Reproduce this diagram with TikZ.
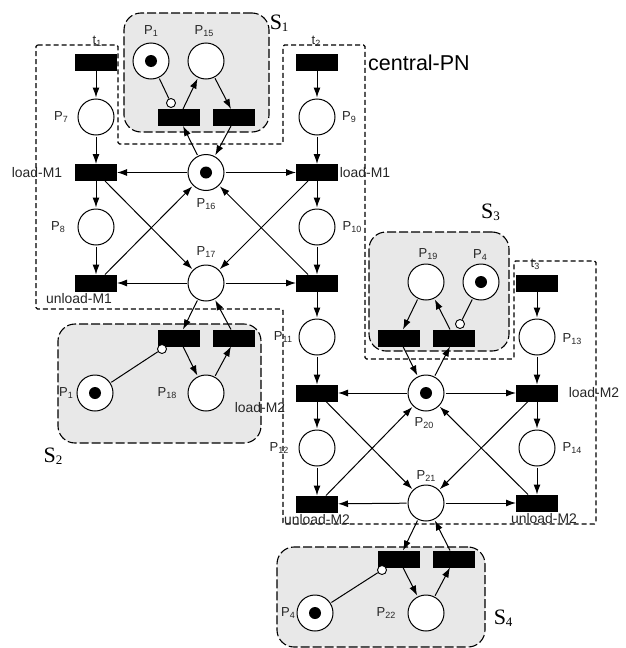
\documentclass[tikz,border=0pt]{standalone}
\usepackage{fontspec}
\setmainfont{Liberation Sans}
\newfontfamily\serifS{Liberation Serif}
\usetikzlibrary{arrows.meta,positioning}

\newcommand{\plc}[1]{{\fontsize{13}{13}\selectfont P\raisebox{-2pt}{\fontsize{9}{9}\selectfont #1}}}
\newcommand{\trn}[1]{{\fontsize{13}{13}\selectfont t\raisebox{-2pt}{\fontsize{9}{9}\selectfont #1}}}
\newcommand{\sbs}[1]{{\serifS\fontsize{22}{22}\selectfont S\raisebox{-2pt}{\fontsize{13}{13}\selectfont #1}}}

\begin{document}
\begin{tikzpicture}[
  x=1pt, y=-1pt, on grid,
  place/.style={draw, circle, fill=white, line width=1pt, minimum size=36pt, inner sep=0pt, outer sep=1.5pt},
  token/.style={path picture={\fill[black] (path picture bounding box.center) circle (6pt);}},
  trans/.style={fill=black, minimum width=42pt, minimum height=17pt, inner sep=0pt, outer sep=0pt},
  inhib/.style={draw, circle, fill=white, line width=0.9pt, minimum size=9pt, inner sep=0pt},
  subnet/.style={draw, fill=black!9, rounded corners=17pt, line width=1.1pt, dash pattern=on 9pt off 3pt, inner sep=0pt},
  central/.style={line width=1.1pt, dash pattern=on 5pt off 3pt, rounded corners=1.5pt},
  arc/.style={-{Latex[length=10pt,width=7pt]}, line width=1pt},
  lab/.style={font=\fontsize{13.9}{14}\selectfont, inner sep=0pt, text=black!85},
  plab/.style={inner sep=0pt, text=black!85}]
\useasboundingbox (0,0) rectangle (626,648);
% shaded subnets
\node[subnet, minimum width=145pt, minimum height=119pt] (s1) at (196.5,72.5) {};
\node[subnet, minimum width=203pt, minimum height=119pt] (s2) at (159.5,383.5) {};
\node[subnet, minimum width=140pt, minimum height=119pt] (s3) at (439,291.5) {};
\node[subnet, minimum width=208pt, minimum height=100pt] (s4) at (381,597) {};
\draw[central] (36,45) -- (118,45) -- (118,144) -- (283,144) -- (283,45) -- (365,45) -- (365,359)
  -- (514,359) -- (514,261) -- (596,261) -- (596,524) -- (283,524) -- (283,309) -- (36,309) -- cycle;
% M1 part
\node[place, token] (p16) at (206,172.5) {};
\node[place, below=110.5pt of p16] (p17) {};
\node[trans, left=110pt of p16] (tl1) {};
\node[trans, right=111pt of p16] (tl2) {};
\node[trans, left=110pt of p17] (tu1) {};
\node[trans, right=111pt of p17] (tu2) {};
\node[place, above=55.5pt of tl1] (p7) {};
\node[trans, above=54.5pt of p7] (t1) {};
\node[place, below=54.5pt of tl1] (p8) {};
\node[place, above=55.5pt of tl2] (p9) {};
\node[trans, above=54.5pt of p9] (t2) {};
\node[place, below=54.5pt of tl2] (p10) {};
% S1
\node[trans, above left=55pt and 27pt of p16] (ts1a) {};
\node[trans, above right=55pt and 28pt of p16] (ts1b) {};
\node[place, token, above=111.5pt of p16, xshift=-55pt] (p1a) {};
\node[place, above=111.5pt of p16] (p15) {};
\node[inhib, above left=14.5pt and 8pt of ts1a] (i1) {};
% S2
\node[trans, below left=55pt and 27pt of p17] (ts2a) {};
\node[trans, below right=55pt and 28pt of p17] (ts2b) {};
\node[place, below=110pt of p17] (p18) {};
\node[place, token, left=111pt of p18] (p1b) {};
\node[inhib, below left=11pt and 17pt of ts2a] (i2) {};
% M2 part
\node[place, below=54pt of tu2] (p11) {};
\node[trans, below=56pt of p11] (tl3) {};
\node[place, below=55pt of tl3] (p12) {};
\node[trans, below=56pt of p12] (tu3) {};
\node[place, token, right=109pt of tl3] (p20) {};
\node[place, below=110pt of p20] (p21) {};
\node[trans, right=111pt of p20] (tl4) {};
\node[trans, right=111pt of p21] (tu4) {};
\node[place, above=56pt of tl4] (p13) {};
\node[trans, above=54pt of p13] (t3) {};
\node[place, below=55pt of tl4] (p14) {};
% S3
\node[trans, above left=55pt and 27pt of p20] (ts3a) {};
\node[trans, above right=55pt and 28pt of p20] (ts3b) {};
\node[place, above=111pt of p20] (p19) {};
\node[place, token, above=111pt of p20, xshift=55pt] (p4a) {};
\node[inhib, above right=14pt and 6pt of ts3b] (i3) {};
% S4
\node[trans, below left=56pt and 27pt of p21] (ts4a) {};
\node[trans, below right=56pt and 28pt of p21] (ts4b) {};
\node[place, below=110pt of p21] (p22) {};
\node[place, token, left=111pt of p22] (p4b) {};
\node[inhib, below left=11pt and 17pt of ts4a] (i4) {};
% columns
\draw[arc] (t1) -- (p7);
\draw[arc] (p7) -- (tl1);
\draw[arc] (tl1) -- (p8);
\draw[arc] (p8) -- (tu1);
\draw[arc] (t2) -- (p9);
\draw[arc] (p9) -- (tl2);
\draw[arc] (tl2) -- (p10);
\draw[arc] (p10) -- (tu2);
\draw[arc] (tu2) -- (p11);
\draw[arc] (p11) -- (tl3);
\draw[arc] (tl3) -- (p12);
\draw[arc] (p12) -- (tu3);
\draw[arc] (t3) -- (p13);
\draw[arc] (p13) -- (tl4);
\draw[arc] (tl4) -- (p14);
\draw[arc] (p14) -- (tu4);
% shared places
\draw[arc] (p16) -- (tl1);
\draw[arc] (p16) -- (tl2);
\draw[arc] (p17) -- (tu1);
\draw[arc] (p17) -- (tu2);
\draw[arc] ([xshift=9pt]tl1.south) -- (p17);
\draw[arc] ([xshift=-9pt]tl2.south) -- (p17);
\draw[arc] ([xshift=9pt]tu1.north) -- (p16);
\draw[arc] ([xshift=-9pt]tu2.north) -- (p16);
\draw[arc] (p20) -- (tl3);
\draw[arc] (p20) -- (tl4);
\draw[arc] (p21) -- (tu3);
\draw[arc] (p21) -- (tu4);
\draw[arc] ([xshift=9pt]tl3.south) -- (p21);
\draw[arc] ([xshift=-9pt]tl4.south) -- (p21);
\draw[arc] ([xshift=9pt]tu3.north) -- (p20);
\draw[arc] ([xshift=-9pt]tu4.north) -- (p20);
% subnet arcs
\draw[arc] (p16) -- ([xshift=4pt]ts1a.south);
\draw[arc] ([xshift=4pt]ts1a.north) -- (p15);
\draw[arc] (p15) -- ([xshift=-3pt]ts1b.north);
\draw[arc] ([xshift=-3pt]ts1b.south) -- (p16);
\draw[line width=1pt] (p1a) -- (i1);
\draw[arc] (p17) -- ([xshift=4pt]ts2a.north);
\draw[arc] ([xshift=4pt]ts2a.south) -- (p18);
\draw[arc] (p18) -- ([xshift=-3pt]ts2b.south);
\draw[arc] ([xshift=-3pt]ts2b.north) -- (p17);
\draw[line width=1pt] (p1b) -- (i2);
\draw[arc] (p19) -- ([xshift=4pt]ts3a.north);
\draw[arc] ([xshift=4pt]ts3a.south) -- (p20);
\draw[arc] (p20) -- ([xshift=-4pt]ts3b.south);
\draw[arc] ([xshift=-4pt]ts3b.north) -- (p19);
\draw[line width=1pt] (p4a) -- (i3);
\draw[arc] (p21) -- ([xshift=4pt]ts4a.north);
\draw[arc] ([xshift=4pt]ts4a.south) -- (p22);
\draw[arc] (p22) -- ([xshift=-4pt]ts4b.south);
\draw[arc] ([xshift=-4pt]ts4b.north) -- (p21);
\draw[line width=1pt] (p4b) -- (i4);
% labels
\node[plab, above=21pt of t1, xshift=1pt] (lt1) {\trn{1}};
\node[plab, above=21pt of t2, xshift=-1pt] (lt2) {\trn{2}};
\node[plab, above=19pt of t3, xshift=-2pt] (lt3) {\trn{3}};
\node[plab, left=35pt of p7] (l7) {\plc{7}};
\node[plab, left=38pt of p8] (l8) {\plc{8}};
\node[plab, right=32pt of p9] (l9) {\plc{9}};
\node[plab, right=35pt of p10] (l10) {\plc{10}};
\node[plab, below=31.5pt of p16] (l16) {\plc{16}};
\node[plab, above=31pt of p17] (l17) {\plc{17}};
\node[plab, above=30pt of p1a] (l1a) {\plc{1}};
\node[plab, above=30pt of p15, xshift=-2pt] (l15) {\plc{15}};
\node[plab, left=29pt of p1b] (l1b) {\plc{1}};
\node[plab, left=39pt of p18] (l18) {\plc{18}};
\node[plab, left=34pt of p11] (l11) {\plc{11}};
\node[plab, left=38pt of p12] (l12) {\plc{12}};
\node[plab, right=35pt of p13, yshift=-2pt] (l13) {\plc{13}};
\node[plab, right=35pt of p14] (l14) {\plc{14}};
\node[plab, above=28pt of p19, xshift=2pt] (l19) {\plc{19}};
\node[plab, above=27pt of p4a, xshift=-1pt] (l4a) {\plc{4}};
\node[plab, below=30pt of p20, xshift=-2pt] (l20) {\plc{20}};
\node[plab, above=27pt of p21] (l21) {\plc{21}};
\node[plab, left=27pt of p4b] (l4b) {\plc{4}};
\node[plab, left=40pt of p22] (l22) {\plc{22}};
\node[lab, left=59pt of tl1] (lm1a) {load-M1};
\node[lab, right=48pt of tl2] (lm1b) {load-M1};
\node[lab, below=15.5pt of tu1, xshift=-17pt] (um1) {unload-M1};
\node[lab, below=70pt of ts2b, xshift=26pt] (lm2a) {load-M2};
\node[lab, right=57pt of tl4] (lm2b) {load-M2};
\node[lab, below=16pt of tu3] (um2a) {unload-M2};
\node[lab, below=16pt of tu4, xshift=7pt] (um2b) {unload-M2};
\node[inner sep=0pt, right=0pt of s1.north east, yshift=-11pt] (ls1) {\sbs{1}};
\node[inner sep=0pt, below left=4pt and 5pt of s2.south west, xshift=10pt] (ls2) {\sbs{2}};
\node[inner sep=0pt, above=11pt of s3.north east, xshift=-19pt] (ls3) {\sbs{3}};
\node[inner sep=0pt, right=8pt of s4.east, yshift=-21pt] (ls4) {\sbs{4}};
\node[inner sep=0pt, font=\fontsize{21.5}{22}\selectfont, right=102pt of t2] (cpn) {central-PN};
\end{tikzpicture}
\end{document}
